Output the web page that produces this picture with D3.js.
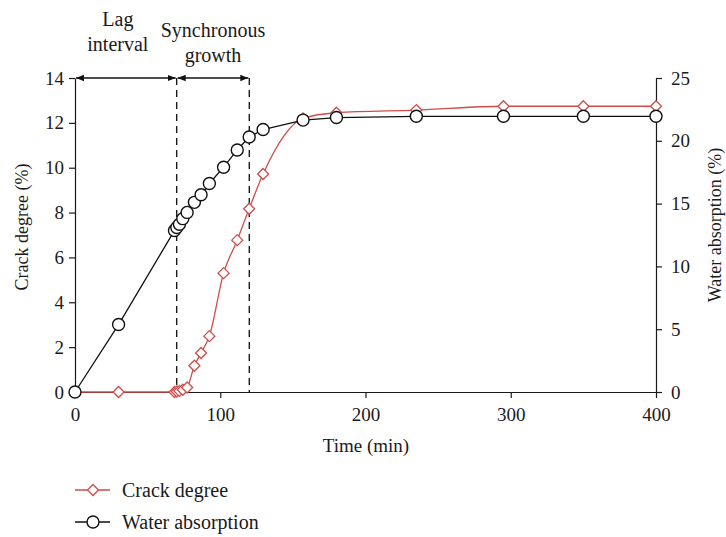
<!DOCTYPE html>
<html>
<head>
<meta charset="utf-8">
<script src="https://cdn.jsdelivr.net/npm/d3@7"></script>
<style>
  html, body { margin: 0; padding: 0; background: #fff; }
  svg { display: block; font-family: "Liberation Serif", "DejaVu Serif", serif; }
</style>
</head>
<body>
<svg id="chart" width="726" height="537"></svg>
<script>
// ---- data ----
const times = [0, 30, 68.5, 70.1, 71.9, 74.2, 77.2, 82.2, 86.8, 92.5, 102.3, 111.7, 119.9, 129.5, 157, 180, 235, 295, 350, 400];
const crackDegree = [0, 0, 0, 0.02, 0.05, 0.1, 0.2, 1.17, 1.74, 2.49, 5.3, 6.77, 8.17, 9.72, 12.2, 12.45, 12.57, 12.74, 12.74, 12.74];
const waterAbsorption = [0, 5.37, 12.86, 13.1, 13.36, 13.8, 14.3, 15.1, 15.7, 16.6, 17.9, 19.27, 20.3, 20.9, 21.65, 21.85, 21.95, 21.95, 21.95, 21.95];
const xTicks = [0, 100, 200, 300, 400];
const leftTicks = [0, 2, 4, 6, 8, 10, 12, 14];
const rightTicks = [0, 5, 10, 15, 20, 25];
const phaseBounds = [0, 70, 120];
const phaseLabels = [["Lag", "interval"], ["Synchronous", "growth"]];
const seriesNames = ["Crack degree", "Water absorption"];

// ---- layout ----
const L = 75, R = 656, T = 78, B = 392;
const red = "#d04c49";
const ink = "#1a1a1a";
const svg = d3.select("#chart");

const x = d3.scaleLinear().domain([0, 400]).range([L, R]);
const yL = d3.scaleLinear().domain([0, 14]).range([B, T]);
const yR = d3.scaleLinear().domain([0, 25]).range([B, T]);

// axes
function styleAxis(g) {
  g.selectAll("path.domain").attr("stroke", ink).attr("stroke-width", 1.2);
  g.selectAll(".tick line").attr("stroke", ink).attr("stroke-width", 1.2);
  g.selectAll(".tick text").attr("fill", ink).attr("font-size", 19)
    .attr("font-family", "Liberation Serif, DejaVu Serif, serif");
}
svg.append("g").attr("transform", `translate(0,${B})`)
  .call(d3.axisBottom(x).tickValues(xTicks).tickSize(6).tickSizeOuter(0).tickPadding(10))
  .call(styleAxis);
svg.append("g").attr("transform", `translate(${L},0)`)
  .call(d3.axisLeft(yL).tickValues(leftTicks).tickSize(6).tickSizeOuter(0).tickPadding(5))
  .call(styleAxis);
svg.append("g").attr("transform", `translate(${R},0)`)
  .call(d3.axisRight(yR).tickValues(rightTicks).tickSize(6).tickSizeOuter(0).tickPadding(9))
  .call(styleAxis);

// axis titles
svg.append("text").attr("x", 366).attr("y", 452).attr("text-anchor", "middle")
  .attr("font-size", 19).attr("fill", ink).text("Time (min)");
svg.append("text").attr("transform", `translate(28,227) rotate(-90)`)
  .attr("text-anchor", "middle").attr("font-size", 18).attr("fill", ink).text("Crack degree (%)");
svg.append("text").attr("transform", `translate(721,225) rotate(-90)`)
  .attr("text-anchor", "middle").attr("font-size", 18).attr("fill", ink).text("Water absorption (%)");

// dashed phase boundaries
svg.selectAll("line.phase").data(phaseBounds.slice(1)).enter().append("line")
  .attr("x1", d => x(d)).attr("x2", d => x(d)).attr("y1", T).attr("y2", B)
  .attr("stroke", ink).attr("stroke-width", 1.4).attr("stroke-dasharray", "7,5");

// arrows
const defs = svg.append("defs");
defs.append("marker").attr("id", "ah").attr("viewBox", "0 0 10 10").attr("refX", 10).attr("refY", 5)
  .attr("markerWidth", 8).attr("markerHeight", 8).attr("markerUnits", "userSpaceOnUse").attr("orient", "auto-start-reverse")
  .append("path").attr("d", "M0,1 L10,5 L0,9 Z").attr("fill", "#111");
for (let i = 0; i < phaseBounds.length - 1; i++) {
  svg.append("line").attr("x1", x(phaseBounds[i]) + 1).attr("x2", x(phaseBounds[i + 1]) - 1)
    .attr("y1", T).attr("y2", T).attr("stroke", "#111").attr("stroke-width", 1.3)
    .attr("marker-start", "url(#ah)").attr("marker-end", "url(#ah)");
  const cx = (x(phaseBounds[i]) + x(phaseBounds[i + 1])) / 2;
  const base = i === 0 ? 26 : 37;
  phaseLabels[i].forEach((t, k) => {
    svg.append("text").attr("x", cx - (i === 0 ? 8 : 0)).attr("y", base + k * 25)
      .attr("text-anchor", "middle").attr("font-size", 20).attr("fill", ink).text(t);
  });
}

// lines
const crackData = times.map((t, i) => [t, crackDegree[i]]);
const waterData = times.map((t, i) => [t, waterAbsorption[i]]);
svg.append("path").datum(crackData)
  .attr("d", d3.line().x(d => x(d[0])).y(d => yL(d[1])).curve(d3.curveMonotoneX))
  .attr("fill", "none").attr("stroke", red).attr("stroke-width", 1.3);
svg.append("path").datum(waterData)
  .attr("d", d3.line().x(d => x(d[0])).y(d => yR(d[1])))
  .attr("fill", "none").attr("stroke", "#111").attr("stroke-width", 1.3);

function diamondPath(cx, cy, r) {
  return `M${cx},${cy - r}L${cx + r},${cy}L${cx},${cy + r}L${cx - r},${cy}Z`;
}
svg.selectAll("path.cd").data(crackData).enter().append("path")
  .attr("d", d => diamondPath(x(d[0]), yL(d[1]), 5.5))
  .attr("fill", "#fff").attr("stroke", red).attr("stroke-width", 1.3);
svg.selectAll("circle.wa").data(waterData).enter().append("circle")
  .attr("cx", d => x(d[0])).attr("cy", d => yR(d[1])).attr("r", 6)
  .attr("fill", "#fff").attr("stroke", "#111").attr("stroke-width", 1.4);

// legend
const lg = [490, 522];
seriesNames.forEach((name, i) => {
  const y = lg[i];
  svg.append("line").attr("x1", 75).attr("x2", 110).attr("y1", y).attr("y2", y)
    .attr("stroke", i === 0 ? red : "#111").attr("stroke-width", 1.3);
  if (i === 0) {
    svg.append("path").attr("d", diamondPath(93, y, 5.5)).attr("fill", "#fff").attr("stroke", red).attr("stroke-width", 1.3);
  } else {
    svg.append("circle").attr("cx", 93).attr("cy", y).attr("r", 6).attr("fill", "#fff").attr("stroke", "#111").attr("stroke-width", 1.4);
  }
  svg.append("text").attr("x", 122).attr("y", y + 7).attr("font-size", 20).attr("fill", ink).text(name);
});
</script>
</body>
</html>
